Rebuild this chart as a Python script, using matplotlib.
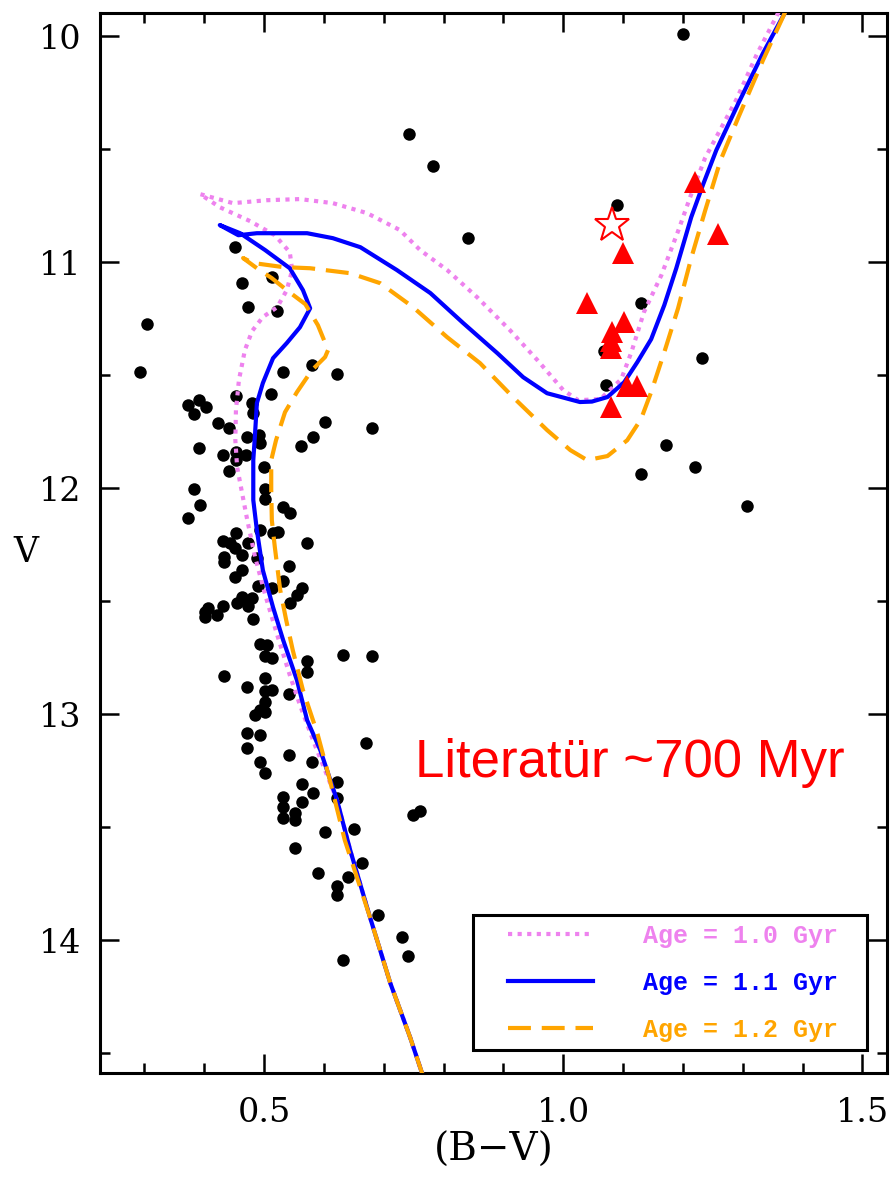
import matplotlib
matplotlib.use("Agg")
import matplotlib.pyplot as plt
from matplotlib.patches import Rectangle
from matplotlib.ticker import MultipleLocator

# cluster members: (B-V), V
star_bv = [1.200, 0.742, 0.783, 1.090, 0.841, 0.451, 1.130, 1.069, 1.232, 1.072,
           1.171, 1.221, 1.130, 1.308, 0.622, 0.681,
           0.463, 0.513, 0.473, 0.522, 0.304, 0.293, 0.532, 0.580, 0.453, 0.512,
           0.373, 0.391, 0.403, 0.383, 0.480, 0.482, 0.423, 0.441, 0.602, 0.472,
           0.492, 0.493, 0.582, 0.562, 0.391, 0.431, 0.453, 0.453, 0.470, 0.500,
           0.441, 0.383, 0.502, 0.502, 0.393, 0.373, 0.532, 0.543, 0.453, 0.493,
           0.515, 0.523, 0.572, 0.431, 0.443, 0.473, 0.452, 0.463, 0.433, 0.433,
           0.488, 0.542, 0.463, 0.452, 0.532, 0.490, 0.513, 0.564, 0.555, 0.543,
           0.463, 0.480, 0.455, 0.473, 0.431, 0.406, 0.401, 0.401, 0.421, 0.482,
           0.493, 0.505, 0.502, 0.513, 0.572, 0.632, 0.681, 0.572, 0.433, 0.502,
           0.472, 0.502, 0.513, 0.542, 0.502, 0.493, 0.485, 0.502, 0.671, 0.472,
           0.493, 0.472, 0.542, 0.493, 0.580, 0.502, 0.564, 0.622, 0.532, 0.582,
           0.622, 0.564, 0.532, 0.532, 0.552, 0.552, 0.602, 0.651, 0.749, 0.761,
           0.552, 0.664, 0.590, 0.640, 0.622, 0.622, 0.691, 0.731, 0.741, 0.632]
star_v = [9.990, 10.434, 10.575, 10.748, 10.894, 10.934, 11.181, 11.394, 11.425, 11.544,
          11.810, 11.907, 11.938, 12.080, 11.496, 11.735,
          11.093, 11.066, 11.199, 11.217, 11.274, 11.487, 11.487, 11.456, 11.593, 11.584,
          11.633, 11.611, 11.642, 11.673, 11.624, 11.668, 11.712, 11.735, 11.708, 11.774,
          11.765, 11.801, 11.774, 11.814, 11.823, 11.854, 11.841, 11.876, 11.854, 11.907,
          11.925, 12.004, 12.004, 12.049, 12.075, 12.133, 12.084, 12.111, 12.199, 12.186,
          12.199, 12.195, 12.243, 12.235, 12.243, 12.243, 12.265, 12.296, 12.305, 12.327,
          12.310, 12.345, 12.363, 12.394, 12.412, 12.434, 12.442, 12.442, 12.473, 12.509,
          12.482, 12.487, 12.509, 12.522, 12.522, 12.531, 12.549, 12.571, 12.562, 12.580,
          12.690, 12.695, 12.743, 12.752, 12.765, 12.739, 12.743, 12.814, 12.832, 12.841,
          12.881, 12.898, 12.894, 12.912, 12.947, 12.982, 13.004, 12.991, 13.128, 13.084,
          13.093, 13.150, 13.181, 13.212, 13.212, 13.261, 13.310, 13.301, 13.367, 13.350,
          13.372, 13.389, 13.412, 13.460, 13.438, 13.469, 13.522, 13.509, 13.447, 13.429,
          13.593, 13.659, 13.704, 13.721, 13.761, 13.801, 13.889, 13.987, 14.071, 14.088]

# red giants (triangles) and the special star
giant_bv = [1.221, 1.259, 1.100, 1.040, 1.102, 1.082, 1.080, 1.080, 1.107, 1.124, 1.080]
giant_v = [10.646, 10.876, 10.960, 11.180, 11.265, 11.310, 11.350, 11.380, 11.550, 11.550, 11.640]
special_bv = [1.082]
special_v = [10.836]

# isochrones, traced from the RGB top down through the turnoff to the lower MS
iso10_bv = [1.360, 1.323, 1.289, 1.237, 1.214, 1.192, 1.164, 1.135, 1.114, 1.097,
            1.062, 1.025, 1.000, 0.957, 0.911, 0.856, 0.806, 0.761, 0.727, 0.672,
            0.615, 0.560, 0.505, 0.448, 0.393, 0.426, 0.477, 0.518, 0.543, 0.547,
            0.538, 0.522, 0.498, 0.480, 0.468, 0.458, 0.453, 0.452, 0.455, 0.472,
            0.485, 0.502, 0.522, 0.543, 0.560, 0.585, 0.622, 0.644, 0.677, 0.711,
            0.744, 0.764, 0.775]
iso10_v = [9.894, 10.084, 10.283, 10.540, 10.699, 10.863, 11.058, 11.221, 11.398, 11.518,
           11.606, 11.611, 11.566, 11.434, 11.301, 11.155, 11.035, 10.947, 10.858, 10.783,
           10.739, 10.721, 10.726, 10.739, 10.699, 10.757, 10.819, 10.881, 10.956, 11.035,
           11.124, 11.199, 11.243, 11.305, 11.389, 11.522, 11.655, 11.788, 11.907, 12.142,
           12.305, 12.473, 12.650, 12.827, 12.960, 13.137, 13.381, 13.602, 13.898, 14.190,
           14.429, 14.588, 14.650]

iso11_bv = [1.371, 1.334, 1.293, 1.256, 1.234, 1.214, 1.189, 1.169, 1.147, 1.124,
            1.102, 1.074, 1.048, 1.028, 0.973, 0.933, 0.890, 0.833, 0.778, 0.722,
            0.661, 0.615, 0.572, 0.488, 0.457, 0.426, 0.460, 0.502, 0.543, 0.565,
            0.577, 0.560, 0.538, 0.515, 0.498, 0.488, 0.485, 0.482, 0.482, 0.488,
            0.498, 0.515, 0.532, 0.555, 0.572, 0.594, 0.622, 0.644, 0.677, 0.711,
            0.744, 0.764, 0.775]
iso11_v = [9.894, 10.075, 10.296, 10.504, 10.655, 10.801, 11.027, 11.190, 11.341, 11.442,
           11.531, 11.597, 11.617, 11.619, 11.580, 11.509, 11.403, 11.270, 11.137, 11.035,
           10.934, 10.894, 10.872, 10.872, 10.881, 10.836, 10.872, 10.947, 11.027, 11.124,
           11.204, 11.288, 11.358, 11.425, 11.535, 11.624, 11.757, 11.876, 12.053, 12.186,
           12.363, 12.527, 12.673, 12.850, 13.027, 13.159, 13.381, 13.602, 13.898, 14.190,
           14.429, 14.588, 14.650]

iso12_bv = [1.371, 1.334, 1.293, 1.263, 1.237, 1.214, 1.192, 1.169, 1.147, 1.130,
            1.107, 1.074, 1.040, 1.012, 0.973, 0.916, 0.861, 0.806, 0.749, 0.694,
            0.644, 0.577, 0.532, 0.482, 0.465, 0.488, 0.513, 0.538, 0.569, 0.590,
            0.607, 0.602, 0.580, 0.555, 0.535, 0.520, 0.512, 0.512, 0.513, 0.518,
            0.527, 0.537, 0.548, 0.565, 0.589, 0.610, 0.635, 0.677, 0.711, 0.744,
            0.764, 0.775]
iso12_v = [9.894, 10.106, 10.358, 10.549, 10.774, 10.982, 11.204, 11.398, 11.575, 11.695,
           11.788, 11.858, 11.876, 11.832, 11.743, 11.597, 11.447, 11.332, 11.199, 11.093,
           11.049, 11.027, 11.022, 11.004, 10.982, 11.027, 11.071, 11.124, 11.186, 11.279,
           11.389, 11.420, 11.478, 11.575, 11.664, 11.788, 11.876, 12.009, 12.142, 12.261,
           12.451, 12.584, 12.717, 12.894, 13.084, 13.292, 13.558, 13.898, 14.190, 14.429,
           14.588, 14.650]

VIOLET = "#ee82ee"
BLUE = "#0000ff"
ORANGE = "#ffa500"

fig = plt.figure(figsize=(8.95, 11.78), dpi=100)
ax = fig.add_axes([0.1112, 0.0891, 0.8804, 0.8998])

ax.plot(star_bv, star_v, "o", color="black", ms=9, mew=0, zorder=2)

ax.plot(iso10_bv, iso10_v, color=VIOLET, lw=3.0, dashes=(1.0, 1.3),
        dash_capstyle="butt", solid_joinstyle="round", zorder=3, label="Age = 1.0 Gyr")
ax.plot(iso11_bv, iso11_v, color=BLUE, lw=3.0, solid_joinstyle="round",
        zorder=3.1, label="Age = 1.1 Gyr")
ax.plot(iso12_bv, iso12_v, color=ORANGE, lw=3.0, dashes=(5.5, 2.6),
        dash_capstyle="butt", zorder=3.2, label="Age = 1.2 Gyr")

ax.plot(giant_bv, giant_v, "^", color="red", ms=16, mew=0, zorder=4)
ax.plot(special_bv, special_v, "*", mfc="white", mec="red", ms=26, mew=1.5, zorder=5)

ax.text(0.752, 13.28, "Literatür ~700 Myr", color="red", fontsize=38,
        family="Liberation Sans", ha="left", va="baseline", zorder=6)

ax.set_xlim(0.225, 1.542)
ax.set_ylim(14.588, 9.898)

ax.xaxis.set_minor_locator(MultipleLocator(0.1))
ax.yaxis.set_minor_locator(MultipleLocator(0.5))
ax.set_xticks([0.5, 1.0, 1.5])
ax.set_xticklabels(["0.5", "1.0", "1.5"])
ax.set_yticks([10, 11, 12, 13, 14])
ax.set_yticklabels(["10", "11", "12", "13", "14"])

ax.tick_params(which="both", direction="in", top=True, right=True, width=1.8)
ax.tick_params(which="major", length=13.5)
ax.tick_params(which="minor", length=7.5)
ax.tick_params(axis="x", pad=17)
ax.tick_params(axis="y", pad=13)
for lab in ax.get_xticklabels() + ax.get_yticklabels():
    lab.set_family("DejaVu Serif")
    lab.set_fontsize(24)
for sp in ax.spines.values():
    sp.set_linewidth(2.2)

ax.set_xlabel("(B\u2212V)", family="DejaVu Serif", fontsize=28, va="center")
ax.xaxis.set_label_coords(0.5, -0.0726)
ax.set_ylabel("V", family="DejaVu Serif", fontsize=25, rotation=0,
              ha="center", va="center")
ax.yaxis.set_label_coords(-0.093, 0.492)

# legend frame drawn separately so its padding matches the original box
ax.add_patch(Rectangle((0.474, 0.0217), 0.500, 0.1273, transform=ax.transAxes,
                       facecolor="white", edgecolor="black", lw=2.2, zorder=7))
leg = ax.legend(loc="upper left", bbox_to_anchor=(0.5184, 0.141), borderaxespad=0,
                prop={"family": "Liberation Mono", "weight": "bold", "size": 18},
                labelcolor="linecolor", handlelength=3.4, handletextpad=2.0,
                labelspacing=0.92, borderpad=0, frameon=False)
leg.set_zorder(8)

fig.savefig("out.png", dpi=100)
